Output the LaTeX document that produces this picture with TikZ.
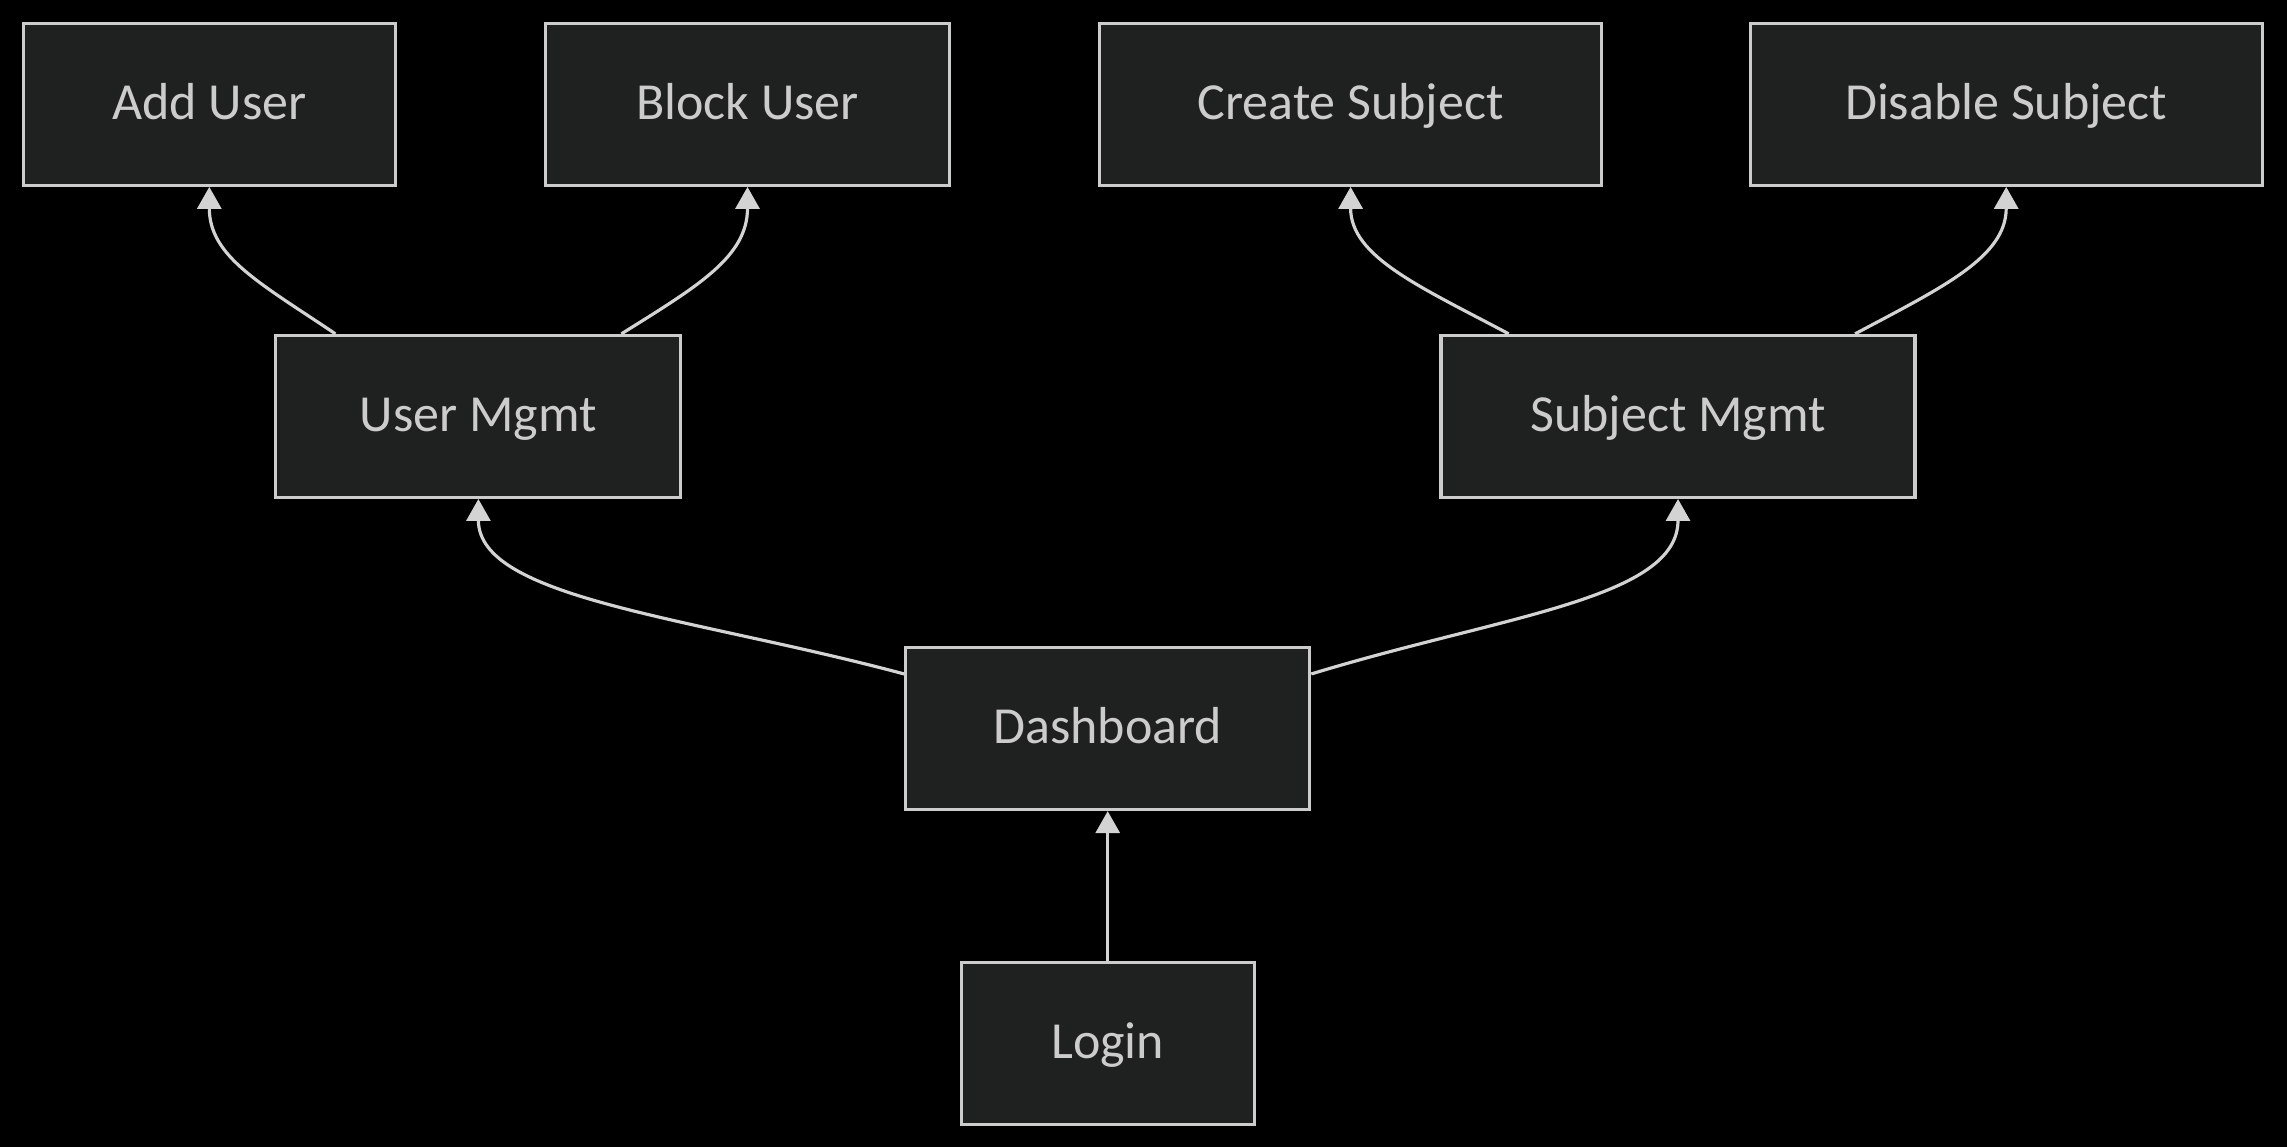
\documentclass[tikz,border=0pt]{standalone}
\usepackage{fontspec}
\setmainfont{Carlito}
\usetikzlibrary{arrows.meta,positioning}
\definecolor{nodefill}{HTML}{1F2020}
\definecolor{nodeline}{HTML}{CCCCCC}
\definecolor{edgeline}{HTML}{D3D3D3}

\begin{document}
\begin{tikzpicture}[
    font=\fontsize{14.8}{18}\selectfont,
    box/.style={rectangle, draw=nodeline, line width=0.9pt, fill=nodefill,
      text=nodeline, minimum height=1.62cm, inner sep=0pt,
      text height=0.34cm, text depth=0.04cm},
    link/.style={-{Triangle[length=2.2mm, width=2.4mm]}, draw=edgeline,
      line width=0.9pt}
  ]
    \useasboundingbox (0,0) rectangle (22.87,-11.46);
    \fill[black] (-0.1,0.1) rectangle (22.97,-11.56);
    % top row
    \node[box, minimum width=3.72cm] (adduser) at (2.093,-1.043) {Add User};
    \node[box, minimum width=4.04cm] (blockuser) at (7.475,-1.043) {Block User};
    \node[box, minimum width=5.02cm] (createsubj) at (13.506,-1.043) {Create Subject};
    \node[box, minimum width=5.12cm] (disablesubj) at (20.062,-1.043) {Disable Subject};
    % middle rows
    \node[box, minimum width=4.05cm] (usermgmt) at (4.784,-4.164) {User Mgmt};
    \node[box, minimum width=4.74cm] (subjmgmt) at (16.78,-4.164) {Subject Mgmt};
    \node[box, minimum width=4.04cm] (dashboard) at (11.077,-7.285) {Dashboard};
    \node[box, minimum width=2.93cm, below=1.5cm of dashboard] (login) {Login};
    % connectors
    \draw[link] (login) -- (dashboard);
    \draw[link] (dashboard.165) to[out=165, in=-90, out distance=2.2cm, in distance=1cm] (usermgmt.south);
    \draw[link] (dashboard.15) to[out=17, in=-90, out distance=2cm, in distance=1cm] (subjmgmt.south);
    \draw[link] (usermgmt.150) to[out=146, in=-90, out distance=0.9cm, in distance=0.7cm] (adduser.south);
    \draw[link] (usermgmt.30) to[out=32, in=-90, out distance=0.9cm, in distance=0.7cm] (blockuser.south);
    \draw[link] (subjmgmt.154.5) to[out=152, in=-90, out distance=1cm, in distance=0.7cm] (createsubj.south);
    \draw[link] (subjmgmt.25.3) to[out=28, in=-90, out distance=1cm, in distance=0.7cm] (disablesubj.south);
  \end{tikzpicture}
\end{document}
